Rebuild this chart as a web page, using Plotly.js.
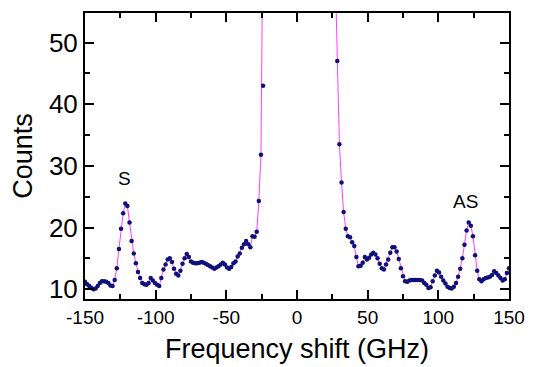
<!DOCTYPE html>
<html>
<head>
<meta charset="utf-8">
<script src="https://cdn.plot.ly/plotly-3.0.1.min.js"></script>
<style>html,body{margin:0;padding:0;background:#fff;}#chart{width:536px;height:367px;}</style>
</head>
<body>
<div id="chart"></div>
<script>
// Frequency shift (GHz), sampled every 1.5 GHz
const freqShift = [
-150,-148.5,-147,-145.5,-144,-142.5,-141,-139.5,-138,-136.5,
-135,-133.5,-132,-130.5,-129,-127.5,-126,-124.5,-123,-121.5,
-120,-118.5,-117,-115.5,-114,-112.5,-111,-109.5,-108,-106.5,
-105,-103.5,-102,-100.5,-99,-97.5,-96,-94.5,-93,-91.5,
-90,-88.5,-87,-85.5,-84,-82.5,-81,-79.5,-78,-76.5,
-75,-73.5,-72,-70.5,-69,-67.5,-66,-64.5,-63,-61.5,
-60,-58.5,-57,-55.5,-54,-52.5,-51,-49.5,-48,-46.5,
-45,-43.5,-42,-40.5,-39,-37.5,-36,-34.5,-33,-31.5,
-30,-28.5,-27,-25.5,-24,-22.5,-21,-19.5,-18,-16.5,
-15,-13.5,-12,-10.5,-9,-7.5,-6,-4.5,-3,-1.5,
0,1.5,3,4.5,6,7.5,9,10.5,12,13.5,
15,16.5,18,19.5,21,22.5,24,25.5,27,28.5,
30,31.5,33,34.5,36,37.5,39,40.5,42,43.5,
45,46.5,48,49.5,51,52.5,54,55.5,57,58.5,
60,61.5,63,64.5,66,67.5,69,70.5,72,73.5,
75,76.5,78,79.5,81,82.5,84,85.5,87,88.5,
90,91.5,93,94.5,96,97.5,99,100.5,102,103.5,
105,106.5,108,109.5,111,112.5,114,115.5,117,118.5,
120,121.5,123,124.5,126,127.5,129,130.5,132,133.5,
135,136.5,138,139.5,141,142.5,144,145.5,147,148.5,
150];
// Counts (central line is off-scale)
const counts = [
11.2,10.8,10.5,10.2,10.0,10.1,10.5,11.0,11.3,11.3,
11.2,11.0,10.6,10.5,11.5,13.4,16.5,19.8,22.3,23.9,
23.5,20.8,17.8,15.8,14.2,12.8,11.8,11.0,10.8,10.7,
11.0,11.8,11.4,11.0,10.7,10.5,11.8,13.2,14.0,14.8,
15.0,14.4,13.3,12.5,12.2,13.0,14.1,15.0,15.7,15.2,
14.5,14.3,14.2,14.2,14.3,14.4,14.3,14.1,13.9,13.7,
13.5,13.3,13.5,13.7,14.0,14.3,14.0,13.5,13.3,13.6,
14.2,14.5,15.3,15.8,16.7,17.3,17.8,17.3,16.8,18.6,
18.5,19.3,24.3,31.8,43.0,58,78,105,140,185,
240,300,370,440,510,580,640,690,730,760,
780,790,790,780,760,730,690,640,580,510,
440,370,300,240,185,140,105,80,62,47,
33.5,27.3,22.5,19.8,18.6,18.4,17.6,17.0,15.2,13.7,
13.8,14.3,15.2,14.8,15.1,15.6,15.9,15.6,15.0,14.1,
13.4,13.2,14.0,14.8,15.9,16.8,16.8,16.1,14.9,13.4,
12.1,11.3,11.2,11.4,11.5,11.5,11.5,11.5,11.5,11.4,
11.0,10.7,10.2,10.3,11.3,12.2,13.0,12.7,12.0,11.4,
10.9,10.4,10.2,10.1,10.4,11.0,12.0,13.3,15.0,17.2,
19.5,20.8,20.3,18.6,15.5,13.0,11.6,11.3,11.6,11.8,
11.9,12.0,12.3,12.9,12.6,12.2,11.8,11.4,11.6,12.6,
13.4];
const xTickVals = [-150,-100,-50,0,50,100,150];
const xTickText = ["-150","-100","-50","0","50","100","150"];
const yTickVals = [10,20,30,40,50];
const yTickText = ["10","20","30","40","50"];
const peakLabels = ["S","AS"];
const peakLabelX = [-122,119];
const peakLabelY = [28.0,24.2];

const font = "Liberation Sans, Arial, sans-serif";
const trace = {
  x: freqShift, y: counts, type: "scatter", mode: "lines+markers",
  line: {color: "#ff40ff", width: 1},
  marker: {color: "#10107a", size: 4.5, symbol: "circle"},
  hoverinfo: "none"
};
const axisCommon = {
  showline: true, linecolor: "#000", linewidth: 2, mirror: "ticks",
  ticks: "inside", ticklen: 9, tickwidth: 2, tickcolor: "#000",
  showgrid: false, zeroline: false
};
const layout = {
  width: 536, height: 367,
  margin: {l: 85, r: 27, t: 13, b: 68},
  paper_bgcolor: "#fff", plot_bgcolor: "#fff",
  showlegend: false,
  font: {family: font, color: "#000"},
  xaxis: Object.assign({}, axisCommon, {
    range: [-150, 150], tickmode: "array", tickvals: xTickVals, ticktext: xTickText,
    tickfont: {size: 19, family: font, color: "#000"},
    minor: {ticks: "inside", dtick: 25, tick0: 0, ticklen: 5, tickwidth: 2, tickcolor: "#000"},
    title: {text: "Frequency shift (GHz)", font: {size: 27, family: font, color: "#000"}, standoff: 12}
  }),
  yaxis: Object.assign({}, axisCommon, {
    range: [8.4, 54.8], tickmode: "array", tickvals: yTickVals, ticktext: yTickText,
    tickfont: {size: 26, family: font, color: "#000"},
    minor: {ticks: "inside", dtick: 5, tick0: 0, ticklen: 5, tickwidth: 2, tickcolor: "#000"},
    title: {text: "Counts", font: {size: 27, family: font, color: "#000"}, standoff: 8}
  }),
  annotations: peakLabels.map((t, i) => ({
    x: peakLabelX[i], y: peakLabelY[i], xref: "x", yref: "y", text: t,
    showarrow: false, font: {size: 19, family: font, color: "#000"}
  }))
};
Plotly.newPlot("chart", [trace], layout, {displayModeBar: false, staticPlot: true});
</script>
</body>
</html>
